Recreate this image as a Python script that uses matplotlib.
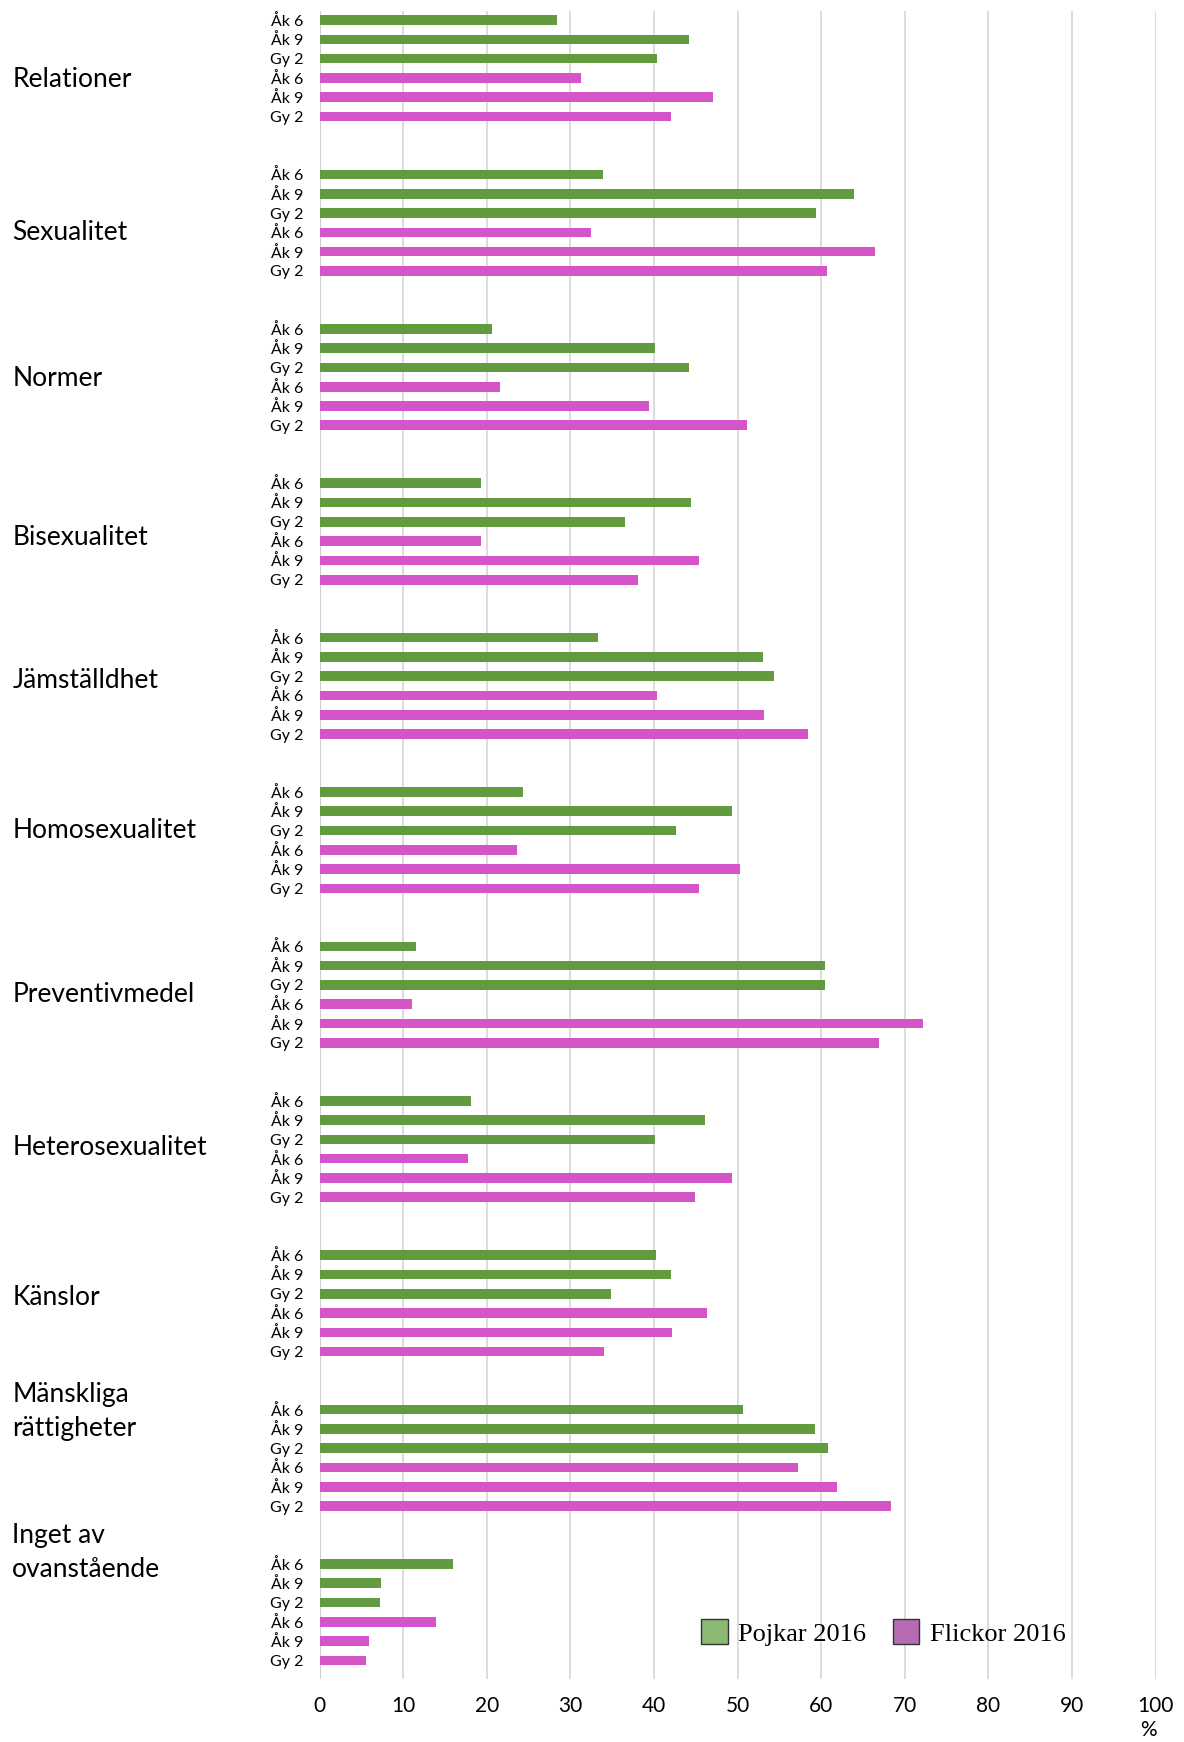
import matplotlib
matplotlib.use("Agg")
import matplotlib.pyplot as plt
from matplotlib.patches import Patch
from matplotlib.transforms import blended_transform_factory

# Kategorier (ämnen) och undergrupper
topics = ["Relationer", "Sexualitet", "Normer", "Bisexualitet", "Jämställdhet",
          "Homosexualitet", "Preventivmedel", "Heterosexualitet", "Känslor",
          "Mänskliga\nrättigheter", "Inget av\novanstående"]
grades = ["Åk 6", "Åk 9", "Gy 2"]

# Andel (%) per ämne: Åk 6, Åk 9, Gy 2
pojkar = [
    [28.4, 44.2, 40.4],
    [33.9, 63.9, 59.4],
    [20.6, 40.1, 44.2],
    [19.3, 44.4, 36.5],
    [33.3, 53.0, 54.4],
    [24.3, 49.3, 42.6],
    [11.5, 60.5, 60.4],
    [18.1, 46.1, 40.1],
    [40.2, 42.0, 34.9],
    [50.6, 59.2, 60.8],
    [15.9, 7.3, 7.2],
]
flickor = [
    [31.3, 47.0, 42.0],
    [32.5, 66.4, 60.7],
    [21.6, 39.4, 51.1],
    [19.3, 45.4, 38.1],
    [40.4, 53.1, 58.4],
    [23.6, 50.3, 45.4],
    [11.0, 72.2, 66.9],
    [17.8, 49.3, 44.9],
    [46.3, 42.2, 34.0],
    [57.2, 61.9, 68.3],
    [13.9, 5.9, 5.5],
]

# Var ämnesetiketten står (i y-led, relativt staplarna)
label_y = [3.1, 11.0, 18.6, 26.8, 34.2, 42.0, 50.5, 58.4, 66.2, 72.1, 79.4]

green = "#629B3F"
pink = "#D355C7"

fig = plt.figure(figsize=(11.84, 17.42), dpi=100)
ax = fig.add_axes([0.270, 0.0362, 0.706, 0.9575])

ypos = []
ylabels = []
for g in range(len(topics)):
    base = g * 8
    for i in range(3):
        ax.barh(base + i, pojkar[g][i], height=0.5, color=green, zorder=3)
        ax.barh(base + 3 + i, flickor[g][i], height=0.5, color=pink, zorder=3)
    for i in range(6):
        ypos.append(base + i)
        ylabels.append(grades[i % 3])

ax.set_xlim(0, 100)
ax.set_ylim(85.96, -0.47)
ax.set_xticks(range(0, 101, 10))
ax.set_yticks(ypos)
ax.set_yticklabels(ylabels, fontsize=11.5, family="Lato")
ax.tick_params(axis="y", length=0, pad=12)
ax.tick_params(axis="x", length=0, pad=12, labelsize=15)
for lab in ax.get_xticklabels():
    lab.set_family("Lato")
ax.grid(axis="x", color="#d9d9d9", linewidth=1.3, zorder=0)
for s in ax.spines.values():
    s.set_visible(False)
ax.axvline(0, color="#d0d0d0", linewidth=1.5, zorder=2)

trans = blended_transform_factory(fig.transFigure, ax.transData)
for name, y in zip(topics, label_y):
    ax.text(0.0103, y, name, transform=trans, fontsize=19, family="Lato",
            va="center", ha="left", linespacing=1.45)

handles = [Patch(facecolor="#8BB974", edgecolor="#333333", label="Pojkar 2016"),
           Patch(facecolor="#B66BB4", edgecolor="#333333", label="Flickor 2016")]
fig.legend(handles=handles, loc="center", bbox_to_anchor=(0.746, 0.063),
           ncol=2, frameon=False, handlelength=1.0, handleheight=1.1,
           handletextpad=0.4, columnspacing=1.0,
           prop={"family": "Liberation Serif", "size": 19})

fig.text(0.9696, 0.0069, "%", fontsize=15, family="Lato", ha="center", va="center")

fig.savefig("out.png", dpi=100)
